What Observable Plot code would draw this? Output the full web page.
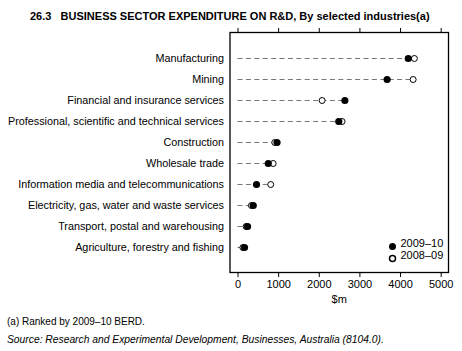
<!DOCTYPE html>
<html><head><meta charset="utf-8">
<script src="https://cdn.jsdelivr.net/npm/d3@7"></script>
<script src="https://cdn.jsdelivr.net/npm/@observablehq/plot@0.6"></script>
<style>
body{margin:0;background:#fff;width:462px;height:351px;overflow:hidden;font-family:"Liberation Sans Narrow","Liberation Sans",Arial,sans-serif;}
#wrap{position:relative;width:462px;height:351px;}
#title{position:absolute;left:30px;top:10px;font-weight:bold;font-size:11px;white-space:pre;color:#000;}
#chart{position:absolute;left:0;top:0;}
.note{position:absolute;left:7px;font-size:10px;color:#000;white-space:nowrap;font-family:"Liberation Sans",Arial,sans-serif;}
</style></head>
<body><div id="wrap">
<div id="chart"></div>
<div id="title">26.3   BUSINESS SECTOR EXPENDITURE ON R&amp;D, By selected industries(a)</div>
<div class="note" style="top:316px">(a) Ranked by 2009–10 BERD.</div>
<div class="note" style="top:334px;font-style:italic;font-size:10.3px">Source: Research and Experimental Development, Businesses, Australia (8104.0).</div>
</div>
<script>
const industries = [
  "Manufacturing",
  "Mining",
  "Financial and insurance services",
  "Professional, scientific and technical services",
  "Construction",
  "Wholesale trade",
  "Information media and telecommunications",
  "Electricity, gas, water and waste services",
  "Transport, postal and warehousing",
  "Agriculture, forestry and fishing"
];
const values2009_10 = [4190, 3670, 2630, 2480, 960, 745, 455, 375, 235, 160];
const values2008_09 = [4340, 4310, 2070, 2560, 905, 865, 805, 330, 200, 120];
const seriesLabels = ["2009–10", "2008–09"];
const xTicks = [0, 1000, 2000, 3000, 4000, 5000];

const rows = industries.map((name, i) => ({
  name, a: values2009_10[i], b: values2008_09[i], max: Math.max(values2009_10[i], values2008_09[i])
}));

const chart = Plot.plot({
  width: 462,
  height: 310,
  marginLeft: 229.5,
  marginRight: 14,
  marginTop: 32,
  marginBottom: 38,
  style: {fontFamily: '"Liberation Sans Narrow","Liberation Sans",Arial,sans-serif', fontSize: "10.8px", color: "#000", background: "#fff"},
  x: {domain: [-197, 5180]},
  y: {domain: industries, type: "point", range: [53.5, 251], padding: 0},
  marks: [
    Plot.ruleY(rows, {y: "name", x1: 0, x2: "max", stroke: "#777", strokeWidth: 1, strokeDasharray: "5,3.4"}),
    Plot.dot(rows, {y: "name", x: "b", r: 3, fill: "#fff", stroke: "#000", strokeWidth: 1}),
    Plot.dot(rows, {y: "name", x: "a", r: 3.6, fill: "#000", stroke: "#000", strokeWidth: 0}),
    Plot.axisY({tickSize: 0, tickPadding: 6, label: null, fontSize: "10.8px"}),
    Plot.axisX({anchor: "top", ticks: xTicks, tickSize: 5, tickFormat: () => "", label: null}),
    Plot.axisX({anchor: "bottom", ticks: xTicks, tickSize: 5, tickPadding: 3, tickFormat: d => String(d), label: null, fontSize: "11px"}),
    Plot.text(["$m"], {frameAnchor: "bottom", dy: 30, text: d => d, fontSize: "11px"}),
    Plot.dot([seriesLabels[0]], {frameAnchor: "bottom-right", dx: -56, dy: -26, r: 3.5, fill: "#000"}),
    Plot.dot([seriesLabels[1]], {frameAnchor: "bottom-right", dx: -56, dy: -14, r: 3, fill: "#fff", stroke: "#000"}),
    Plot.text([seriesLabels[0]], {frameAnchor: "bottom-right", dx: -48, dy: -26, text: d => d, textAnchor: "start", fontSize: "11px"}),
    Plot.text([seriesLabels[1]], {frameAnchor: "bottom-right", dx: -48, dy: -14, text: d => d, textAnchor: "start", fontSize: "11px"}),
    Plot.frame({stroke: "#000", strokeWidth: 1.3})
  ]
});
document.getElementById("chart").appendChild(chart);
</script>
</body></html>
